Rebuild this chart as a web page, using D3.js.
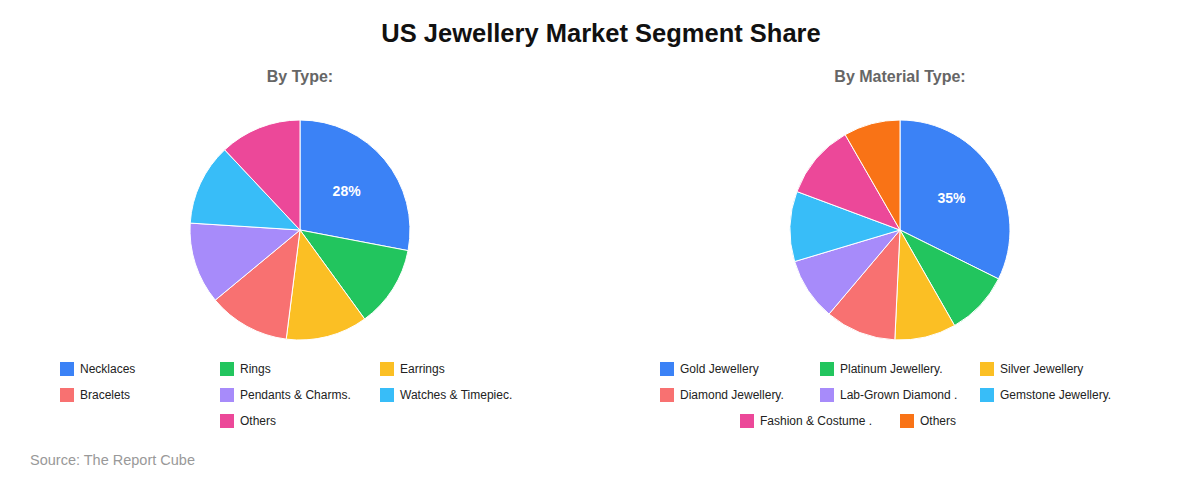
<!DOCTYPE html><html><head><meta charset="utf-8"><script src="https://cdn.jsdelivr.net/npm/d3@7"></script>
<style>body{margin:0;background:#fff;font-family:"Liberation Sans",Arial,sans-serif}</style></head><body><svg id="c" width="1200" height="480"></svg>
<script>
const typeCats=["Necklaces","Rings","Earrings","Bracelets","Pendants & Charms.","Watches & Timepiec.","Others"];
const typeVals=[28,12,12,12,12,12,12];
const typeLabels=["28%","","","","","",""];
const matCats=["Gold Jewellery","Platinum Jewellery.","Silver Jewellery","Diamond Jewellery.","Lab-Grown Diamond .","Gemstone Jewellery.","Fashion & Costume .","Others"];
const matVals=[32.3,9.4,9,10.4,9.2,10.3,11,8.3];
const matLabels=["35%","","","","","","",""];
const colors=["#3b82f6","#22c55e","#fbbf24","#f87171","#a78bfa","#38bdf8","#ec4899","#f97316"];
const svg=d3.select("#c");
svg.append("text").attr("x",601).attr("y",42).attr("text-anchor","middle").attr("font-size",25.5).attr("font-weight","bold").attr("fill","#111").text("US Jewellery Market Segment Share");
svg.append("text").attr("x",30).attr("y",465).attr("font-size",14.5).attr("fill","#999").text("Source: The Report Cube");
function pie(cx,title,cats,vals,labels,lx){
  const g=svg.append("g");
  g.append("text").attr("x",cx).attr("y",82).attr("text-anchor","middle").attr("font-size",16).attr("font-weight","bold").attr("fill","#666").text(title);
  const R=110;
  const arcs=d3.pie().sort(null)(vals);
  const arc=d3.arc().innerRadius(0).outerRadius(R);
  const pg=g.append("g").attr("transform",`translate(${cx},230)`);
  pg.selectAll("path").data(arcs).join("path").attr("d",arc).attr("fill",(d,i)=>colors[i]).attr("stroke","#fff").attr("stroke-width",1);
  const la=d3.arc().innerRadius(R*0.55).outerRadius(R*0.55);
  pg.selectAll("text").data(arcs).join("text").attr("transform",d=>`translate(${la.centroid(d)})`).attr("text-anchor","middle").attr("dy","0.35em").attr("font-size",14).attr("font-weight","bold").attr("fill","#fff").text((d,i)=>labels[i]);
  cats.forEach((c,i)=>{
    const row=Math.floor(i/3), col=i%3;
    const rowN=Math.min(3,cats.length-row*3);
    const x=lx+col*160+(3-rowN)*80, y=369+row*26;
    g.append("rect").attr("x",x).attr("y",y-7).attr("width",14).attr("height",14).attr("fill",colors[i]);
    g.append("text").attr("x",x+20).attr("y",y).attr("dy","0.35em").attr("font-size",12).attr("fill","#222").text(c);
  });
}
pie(300,"By Type:",typeCats,typeVals,typeLabels,60);
pie(900,"By Material Type:",matCats,matVals,matLabels,660);
</script></body></html>
